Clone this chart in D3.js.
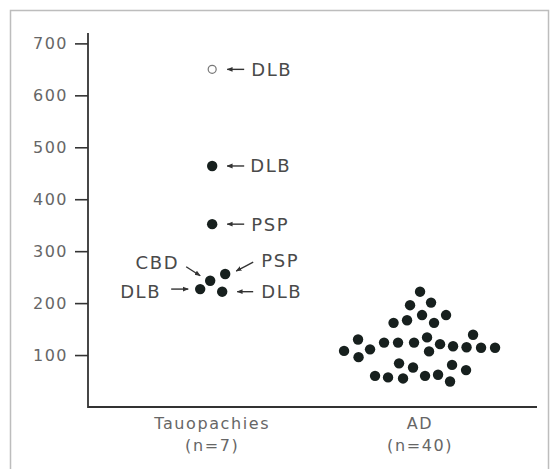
<!DOCTYPE html>
<html>
<head>
<meta charset="utf-8">
<script src="https://cdn.jsdelivr.net/npm/d3@7"></script>
<style>
  body { margin: 0; background: #fff; }
  text { font-family: "DejaVu Sans", sans-serif; }
</style>
</head>
<body>
<div id="chart"></div>
<script>
// groups on the x axis
let groups = ["Tauopachies", "AD"];
let groupLabels = [["Tauopachies", "(n=7)"], ["AD", "(n=40)"]];
let yTicks = [100, 200, 300, 400, 500, 600, 700];

// tauopathy cases (value, horizontal jitter in dot widths, open marker?)
let tauValues = [650, 464, 352, 243, 256, 227, 222];
let tauJitter = [0, 0, 0, -0.2, 1.3, -1.2, 1.0];
let tauOpen = [true, false, false, false, false, false, false];
let tauNames = ["DLB", "DLB", "PSP", "CBD", "PSP", "DLB", "DLB"];

// AD cases
let adValues = [
  222, 196, 201, 162, 167, 177, 162, 177,
  108, 130, 111, 96, 124, 124, 124, 134, 107, 121, 117, 115, 139, 114, 114,
  84, 76, 81, 71, 60, 57, 55, 60, 62, 49,
];
let adJitter = [
  0.0, -1.0, 1.1, -2.65, -1.3, 0.2, 1.4, 2.6,
  -7.6, -6.2, -5.0, -6.15, -3.6, -2.2, -0.6, 0.7, 0.9, 2.0, 3.3, 4.65, 5.3, 6.1, 7.5,
  -2.1, -0.7, 3.2, 4.6, -4.5, -3.2, -1.7, 0.5, 1.8, 3.0,
];

function drawSvg() {
  let width = 550;
  let height = 469;
  let left = 88;
  let right = 537;
  let top = 33;
  let bottom = 407;
  let r = 5.2;

  let svg = d3
    .select("#chart")
    .append("svg")
    .attr("width", width)
    .attr("height", height);

  // outer frame
  svg
    .append("rect")
    .attr("x", 10.5)
    .attr("y", 10.5)
    .attr("width", 538)
    .attr("height", 480)
    .attr("fill", "none")
    .attr("stroke", "#bdbdbd")
    .attr("stroke-width", 1.5);

  let yScale = d3.scaleLinear().domain([0, 720]).range([bottom, top]);
  let xScale = d3
    .scalePoint()
    .domain(groups)
    .range([left, right])
    .padding(0.58)
    .align(0.515);
  let jitter = d3.scaleLinear().domain([0, 1]).range([0, 10]);

  let yAxis = d3.axisLeft(yScale).tickValues(yTicks).tickSize(13).tickPadding(7);
  let gy = svg
    .append("g")
    .attr("transform", "translate(" + left + ",0)")
    .call(yAxis);
  gy.select(".domain").remove();
  gy.selectAll("line").attr("stroke", "#333").attr("stroke-width", 1.6);
  gy.selectAll("text")
    .attr("fill", "#666")
    .style("font-size", "16px")
    .style("letter-spacing", "1.5px");

  // axis lines (L shape)
  svg
    .append("path")
    .attr("d", d3.line()([[left, top], [left, bottom], [right, bottom]]))
    .attr("fill", "none")
    .attr("stroke", "#333")
    .attr("stroke-width", 1.8);

  // category labels
  groupLabels.forEach(function (lines, i) {
    let t = svg
      .append("text")
      .attr("x", xScale(groups[i]))
      .attr("y", 429)
      .attr("text-anchor", "middle")
      .attr("fill", "#666")
      .style("font-size", "16px")
      .style("letter-spacing", "1.6px");
    lines.forEach(function (line, j) {
      t.append("tspan")
        .attr("x", xScale(groups[i]))
        .attr("dy", j === 0 ? 0 : 22)
        .text(line);
    });
  });

  let tau = tauValues.map((v, i) => ({
    x: xScale("Tauopachies") + jitter(tauJitter[i]),
    y: yScale(v),
    open: tauOpen[i],
    name: tauNames[i],
  }));
  let ad = adValues.map((v, i) => ({
    x: xScale("AD") + jitter(adJitter[i]),
    y: yScale(v),
  }));

  let dotColor = "#17201e";

  svg
    .selectAll("circle.ad")
    .data(ad)
    .enter()
    .append("circle")
    .attr("class", "ad")
    .attr("cx", (d) => d.x)
    .attr("cy", (d) => d.y)
    .attr("r", r)
    .attr("fill", dotColor);

  svg
    .selectAll("circle.tau")
    .data(tau)
    .enter()
    .append("circle")
    .attr("class", "tau")
    .attr("cx", (d) => d.x)
    .attr("cy", (d) => d.y)
    .attr("r", (d) => (d.open ? 4 : r))
    .attr("fill", (d) => (d.open ? "#fff" : dotColor))
    .attr("stroke", (d) => (d.open ? "#777" : "none"))
    .attr("stroke-width", 1.2);

  // arrow marker
  svg
    .append("defs")
    .append("marker")
    .attr("id", "arrow")
    .attr("viewBox", "0 0 10 10")
    .attr("refX", 9)
    .attr("refY", 5)
    .attr("markerWidth", 6)
    .attr("markerHeight", 6)
    .attr("markerUnits", "userSpaceOnUse")
    .attr("orient", "auto")
    .append("path")
    .attr("d", "M0,1 L10,5 L0,9 z")
    .attr("fill", "#333");

  // where each annotation sits relative to its dot
  // [tailDx, tailDy, tipDx, tipDy, textDx, textDy, anchor]
  let placement = [
    [32, 0, 15, 0, 39, 0, "start"],
    [32, 0, 15, 0, 38, 0, "start"],
    [32, 0, 15, 0, 39, 0, "start"],
    [-24, -14, -10, -5, -31, -18, "end"],
    [28, -12, 11, -3, 36, -14, "start"],
    [-29, 0, -12, 0, -39, 2, "end"],
    [31, 0, 15, 0, 39, 0, "start"],
  ];

  tau.forEach(function (d, i) {
    let p = placement[i];
    svg
      .append("line")
      .attr("x1", d.x + p[0])
      .attr("y1", d.y + p[1])
      .attr("x2", d.x + p[2])
      .attr("y2", d.y + p[3])
      .attr("stroke", "#333")
      .attr("stroke-width", 1.4)
      .attr("marker-end", "url(#arrow)");
    svg
      .append("text")
      .attr("x", d.x + p[4])
      .attr("y", d.y + p[5])
      .attr("dy", "0.36em")
      .attr("text-anchor", p[6])
      .attr("fill", "#4a4a4a")
      .style("font-size", "18px")
      .style("letter-spacing", "1.6px")
      .text(d.name);
  });
}

drawSvg();
</script>
</body>
</html>
